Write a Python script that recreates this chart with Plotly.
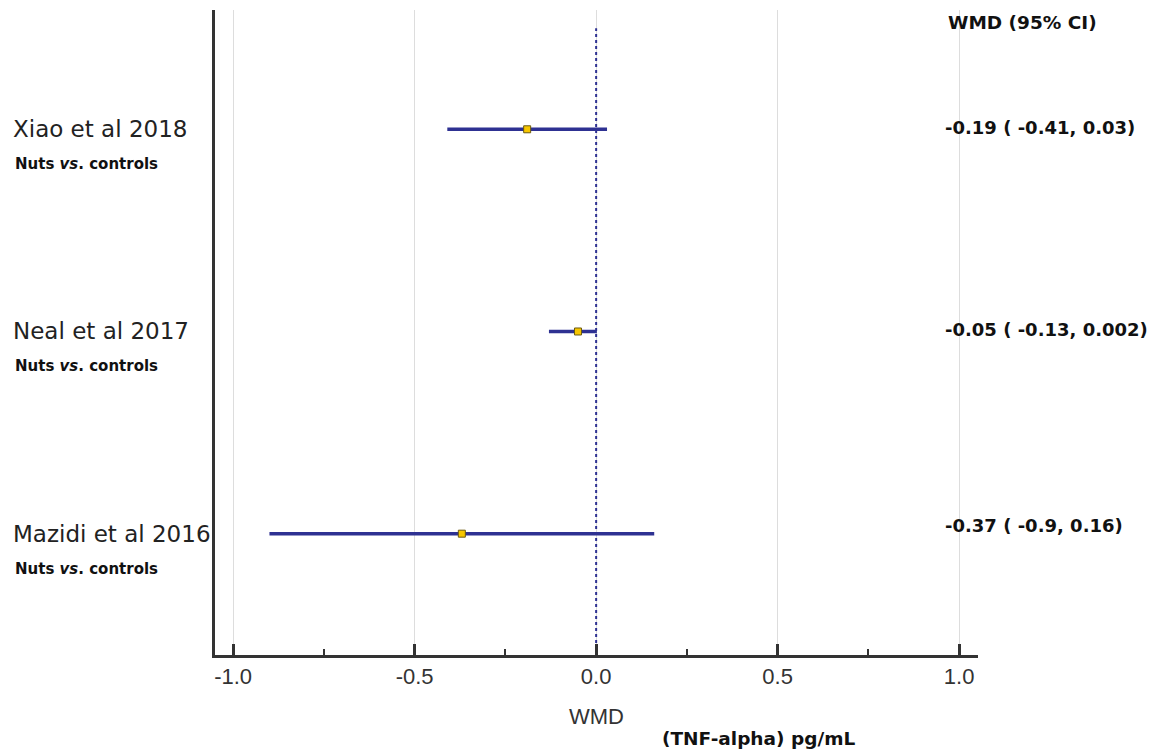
import plotly.graph_objects as go

# Study-level weighted mean differences for TNF-alpha (pg/mL)
studies = ["Xiao et al 2018", "Neal et al 2017", "Mazidi et al 2016"]
comparison = ["Nuts <i>vs</i>. controls", "Nuts <i>vs</i>. controls", "Nuts <i>vs</i>. controls"]
wmd = [-0.19, -0.05, -0.37]
ci_low = [-0.41, -0.13, -0.9]
ci_high = [0.03, 0.002, 0.16]
ci_text = ["-0.19 ( -0.41, 0.03)", "-0.05 ( -0.13, 0.002)", "-0.37 ( -0.9, 0.16)"]
rows = [3, 2, 1]
x_ticks = [-1.0, -0.5, 0.0, 0.5, 1.0]
x_tick_labels = ["-1.0", "-0.5", "0.0", "0.5", "1.0"]

NAVY = "#2e3192"
AXIS = "#333333"
ARIAL = "Liberation Sans, Arial, sans-serif"
WIDE = "DejaVu Sans, sans-serif"
BOLD = "DejaVu Sans, sans-serif"

fig = go.Figure()

fig.add_trace(go.Scatter(
    x=wmd, y=rows, mode="markers",
    marker=dict(symbol="square", size=7, color="#f7c600",
                line=dict(color="#6b5a10", width=1)),
    error_x=dict(type="data", symmetric=False,
                 array=[h - m for h, m in zip(ci_high, wmd)],
                 arrayminus=[m - l for m, l in zip(wmd, ci_low)],
                 color=NAVY, thickness=3.5, width=0),
    hoverinfo="skip", showlegend=False,
))

# Line of no effect, drawn over the gridlines but under the intervals
fig.add_shape(type="line", xref="x", yref="y", x0=0, x1=0, y0=0.4, y1=3.5,
              line=dict(color=NAVY, width=2, dash="dot"), layer="between")

annotations = []
value_shift = [2, 2, 8]
for name, comp, txt, r, vs in zip(studies, comparison, ci_text, rows, value_shift):
    annotations.append(dict(xref="paper", yref="y", x=-0.2673, y=r, text=name,
                            xanchor="left", yanchor="middle", showarrow=False,
                            font=dict(family=WIDE, size=23, color="#222")))
    annotations.append(dict(xref="paper", yref="y", x=-0.2647, y=r, yshift=-35,
                            text="<b>" + comp + "</b>",
                            xanchor="left", yanchor="middle", showarrow=False,
                            font=dict(family=BOLD, size=15, color="#111")))
    annotations.append(dict(xref="paper", yref="y", x=0.9541, y=r, yshift=vs,
                            text="<b>" + txt + "</b>",
                            xanchor="left", yanchor="middle", showarrow=False,
                            font=dict(family=BOLD, size=18, color="#111")))

annotations.append(dict(xref="paper", yref="paper", x=0.9581, y=1, yshift=-12,
                        text="<b>WMD (95% CI)</b>", xanchor="left", yanchor="middle",
                        showarrow=False, font=dict(family=BOLD, size=18.5, color="#111")))
annotations.append(dict(xref="x", yref="paper", x=0, y=0, yshift=-61,
                        text="WMD", xanchor="center", yanchor="middle",
                        showarrow=False, font=dict(family=ARIAL, size=22, color="#333")))
annotations.append(dict(xref="paper", yref="paper", x=0.5832, y=0, yshift=-83,
                        text="<b>(TNF-alpha) pg/mL</b>", xanchor="left", yanchor="middle",
                        showarrow=False, font=dict(family=BOLD, size=18.5, color="#111")))

fig.update_layout(
    width=1157, height=756,
    margin=dict(l=215, r=179, t=10, b=101),
    paper_bgcolor="white", plot_bgcolor="white",
    annotations=annotations,
    xaxis=dict(
        range=[-1.05, 1.052], tickvals=x_ticks, ticktext=x_tick_labels,
        showgrid=True, gridcolor="#dddddd", gridwidth=1, zeroline=False,
        showline=True, linecolor=AXIS, linewidth=3,
        ticks="inside", ticklen=11, tickwidth=3, tickcolor=AXIS,
        minor=dict(dtick=0.25, tick0=0, ticks="inside", ticklen=6,
                   tickwidth=2, tickcolor=AXIS, showgrid=False),
        tickfont=dict(family=ARIAL, size=22, color="#333"),
        fixedrange=True,
    ),
    yaxis=dict(
        range=[0.4, 3.59], showticklabels=False, showgrid=False, zeroline=False,
        showline=True, linecolor=AXIS, linewidth=3, ticks="", fixedrange=True,
    ),
)

fig.write_html("out.html")
